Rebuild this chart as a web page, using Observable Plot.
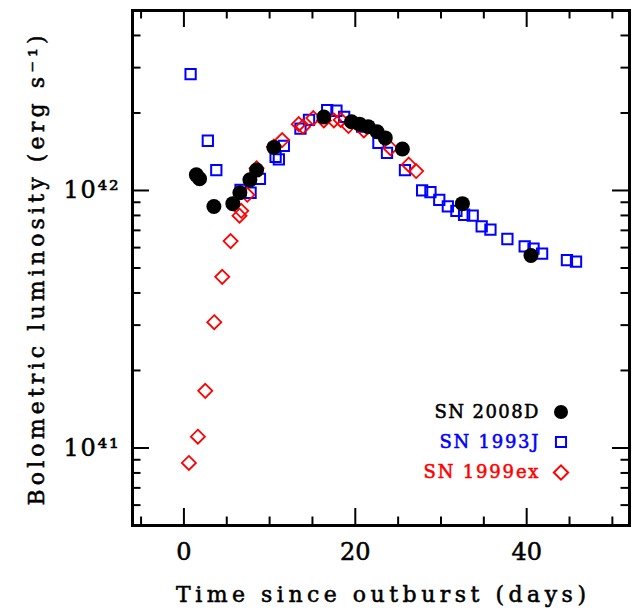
<!DOCTYPE html>
<html><head><meta charset="utf-8">
<script src="https://cdn.jsdelivr.net/npm/d3@7"></script>
<script src="https://cdn.jsdelivr.net/npm/@observablehq/plot@0.6"></script>
<style>body{margin:0;background:#fff}</style>
</head><body><div id="chart"></div>
<script>
// SN 2008D (black filled circles) — days, luminosity in 1e42 erg/s
const days2008D = [1.45, 1.83, 3.5, 5.71, 6.53, 7.7, 8.48, 10.5, 16.33, 19.56, 20.5, 21.5, 22.55, 23.5, 25.5, 32.5, 40.5];
const lum2008D  = [1.15, 1.11, 0.867, 0.889, 0.98, 1.10, 1.20, 1.47, 1.93, 1.85, 1.81, 1.77, 1.69, 1.60, 1.45, 0.889, 0.559];
// SN 1993J (blue open squares)
const days1993J = [0.78, 2.79, 3.78, 6.61, 7.78, 8.87, 10.7, 11.08, 11.66, 13.6, 14.6, 16.72, 17.8, 18.7, 20.8, 22.7, 23.7, 25.8, 27.8, 28.77, 29.8, 30.8, 31.8, 32.7, 33.7, 34.75, 35.77, 37.75, 39.77, 40.8, 41.8, 44.7, 45.76];
const lum1993J  = [2.83, 1.56, 1.20, 1.006, 0.98, 1.11, 1.35, 1.32, 1.49, 1.74, 1.88, 2.05, 2.04, 1.93, 1.77, 1.53, 1.40, 1.20, 1.00, 0.986, 0.92, 0.867, 0.834, 0.805, 0.798, 0.726, 0.705, 0.648, 0.607, 0.594, 0.569, 0.536, 0.529];
// SN 1999ex (red open diamonds)
const days1999ex = [0.58, 1.63, 2.49, 3.54, 4.47, 5.45, 6.49, 6.69, 7.4, 8.48, 10.5, 11.47, 13.4, 13.9, 15.1, 16.33, 17.5, 18.3, 19.2, 21.0, 24.1, 26.24, 27.1];
const lum1999ex  = [0.0875, 0.1106, 0.1667, 0.308, 0.462, 0.636, 0.798, 0.834, 0.962, 1.22, 1.48, 1.57, 1.81, 1.77, 1.91, 1.87, 1.87, 1.88, 1.78, 1.71, 1.46, 1.26, 1.19];

const seriesNames = ["SN 2008D", "SN 1993J", "SN 1999ex"];
const seriesColors = ["#000000", "#0000ff", "#ff0000"];

const xMajor = [0, 20, 40];
const xMinor = [-5, 5, 10, 15, 25, 30, 35, 45, 50];
const yMajor = [1e41, 1e42];
const yMinor = [6e40, 7e40, 8e40, 9e40, 2e41, 3e41, 4e41, 5e41, 6e41, 7e41, 8e41, 9e41, 2e42, 3e42, 4e42];
const yTickLabels = {41: "10⁴¹", 42: "10⁴²"};

const xTitle = "Time since outburst (days)";
const yTitle = "Bolometric luminosity (erg s⁻¹)";

const toRows = (d, l) => d.map((t, i) => ({t, L: l[i] * 1e42}));
const sn2008D = toRows(days2008D, lum2008D);
const sn1993J = toRows(days1993J, lum1993J);
const sn1999ex = toRows(days1999ex, lum1999ex);

const W = 634, H = 612, mL = 132, mR = 5, mT = 10, mB = 87;
const fw = W - mL - mR, fh = H - mT - mB;
const serif = "DejaVu Serif";

const squareSym = {draw(c, s) { const h = Math.sqrt(s) / 2; c.moveTo(-h, -h); c.lineTo(h, -h); c.lineTo(h, h); c.lineTo(-h, h); c.closePath(); }};
const diamondSym = {draw(c, s) { const a = Math.sqrt(s / 2); c.moveTo(0, -a); c.lineTo(a, 0); c.lineTo(0, a); c.lineTo(-a, 0); c.closePath(); }};

const majLen = 17, minLen = 8.5;
const tickStyle = {stroke: "black", strokeWidth: 2};

// legend rows (vertical offsets from the frame bottom)
const legendDy = [-113.5, -83.5, -53];
const legendSymbols = ["circle", squareSym, diamondSym];

const legendMarks = [];
seriesNames.forEach((name, i) => {
  legendMarks.push(Plot.text([name], {text: d => d, frameAnchor: "bottom-right", dx: -91, dy: legendDy[i], textAnchor: "end", lineAnchor: "middle", fill: seriesColors[i], fontSize: 18, fontFamily: serif}));
  legendMarks.push(Plot.dot([name], {frameAnchor: "bottom-right", dx: -68.5, dy: legendDy[i], symbol: legendSymbols[i], r: i === 0 ? 7 : 5.7,
    fill: i === 0 ? "black" : "none", stroke: seriesColors[i], strokeWidth: i === 0 ? 0 : 2}));
});

const chart = Plot.plot({
  width: W, height: H,
  marginLeft: mL, marginRight: mR, marginTop: mT, marginBottom: mB,
  style: {fontFamily: serif, background: "white", color: "black"},
  x: {domain: [-6, 52]},
  y: {type: "log", domain: [5e40, 5e42]},
  marks: [
    Plot.dot(sn1993J, {x: "t", y: "L", symbol: squareSym, r: 5.8, fill: "none", stroke: "#0000ff", strokeWidth: 2}),
    Plot.dot(sn1999ex, {x: "t", y: "L", symbol: diamondSym, r: 5.6, fill: "none", stroke: "#ff0000", strokeWidth: 1.8}),
    Plot.dot(sn2008D, {x: "t", y: "L", r: 7.5, fill: "black"}),
    // inward ticks on all four sides
    Plot.tickX(xMajor, {x: d => d, insetTop: fh - majLen, ...tickStyle}),
    Plot.tickX(xMajor, {x: d => d, insetBottom: fh - majLen, ...tickStyle}),
    Plot.tickX(xMinor, {x: d => d, insetTop: fh - minLen, ...tickStyle}),
    Plot.tickX(xMinor, {x: d => d, insetBottom: fh - minLen, ...tickStyle}),
    Plot.tickY(yMajor, {y: d => d, insetRight: fw - majLen, ...tickStyle}),
    Plot.tickY(yMajor, {y: d => d, insetLeft: fw - majLen, ...tickStyle}),
    Plot.tickY(yMinor, {y: d => d, insetRight: fw - minLen, ...tickStyle}),
    Plot.tickY(yMinor, {y: d => d, insetLeft: fw - minLen, ...tickStyle}),
    Plot.frame({stroke: "black", strokeWidth: 3}),
    Plot.axisX({ticks: xMajor, tickSize: 0, tickPadding: 17, fontSize: 24, label: null, tickFormat: d => String(d)}),
    Plot.axisY({ticks: yMajor, tickSize: 0, tickPadding: 14, fontSize: 24, label: null, tickFormat: d => yTickLabels[Math.round(Math.log10(d))]}),
    Plot.text([xTitle], {text: d => d, frameAnchor: "bottom", dy: 69, textAnchor: "middle", lineAnchor: "middle", fontSize: 22, fontFamily: serif}),
    Plot.text([yTitle], {text: d => d, frameAnchor: "left", dx: -96, dy: 237.5, rotate: -90, textAnchor: "start", lineAnchor: "middle", fontSize: 22, fontFamily: serif}),
    ...legendMarks
  ]
});

document.getElementById("chart").appendChild(chart);

// stretch text to the wide, heavy lettering of the original
const lens = {[xTitle]: 410, [yTitle]: 470, "SN 2008D": 104, "SN 1993J": 99, "SN 1999ex": 115, "10⁴²": 55, "10⁴¹": 55};
d3.select(chart).selectAll("text").each(function() {
  const t = this.textContent;
  if (lens[t]) { this.setAttribute("textLength", lens[t]); this.setAttribute("lengthAdjust", "spacing"); }
  const f = getComputedStyle(this).fill;
  this.setAttribute("stroke", f);
  this.setAttribute("stroke-width", 0.55);
});
</script>
</body></html>
